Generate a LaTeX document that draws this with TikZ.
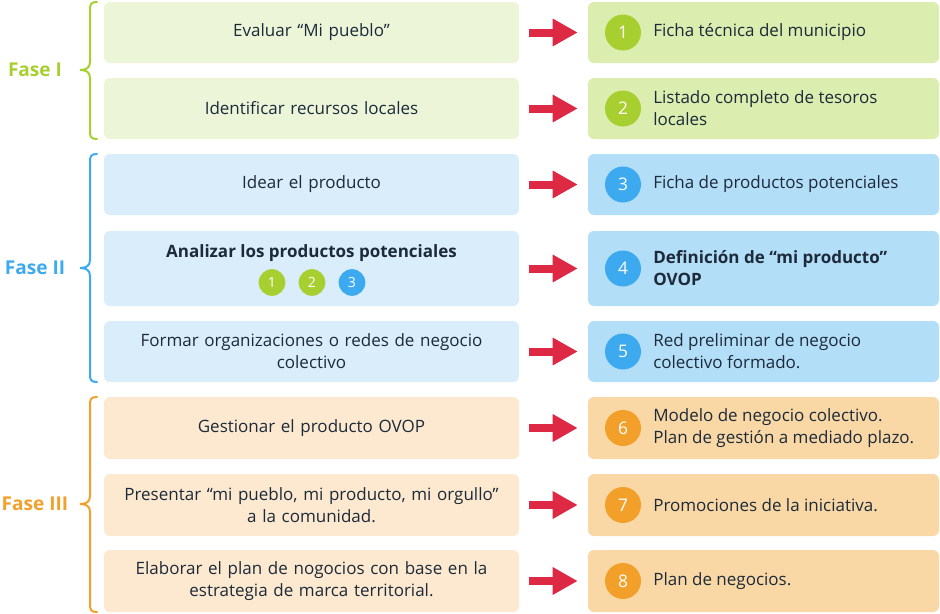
\documentclass[tikz,border=0pt]{standalone}
\usepackage{fontspec}
\setmainfont{Open Sans}
\usetikzlibrary{arrows.meta}
\definecolor{ink}{HTML}{1C2A3A}
\definecolor{gA}{HTML}{A8CF30}
\definecolor{gL}{HTML}{ECF5D8}
\definecolor{gR}{HTML}{DCEDB0}
\definecolor{bA}{HTML}{3DAAEF}
\definecolor{bL}{HTML}{D9EDFA}
\definecolor{bR}{HTML}{B3DEF8}
\definecolor{oA}{HTML}{F3A02A}
\definecolor{oL}{HTML}{FDE9CF}
\definecolor{oR}{HTML}{FAD8A5}
\definecolor{arrowred}{HTML}{DE2945}
\begin{document}
\begin{tikzpicture}[x=0.75pt,y=-0.75pt,
  txt/.style={font=\fontsize{12.75}{16.5}\selectfont, text=ink},
  lbox/.style={txt, rounded corners=4.5pt, minimum width=311.25pt, text width=300pt, align=center, inner sep=0pt},
  rbox/.style={rounded corners=4.5pt, minimum width=263.25pt, inner sep=0pt},
  rtext/.style={txt, anchor=west, align=left, inner sep=0pt},
  num/.style={circle, minimum size=27pt, inner sep=0pt, text=white, font=\fontsize{13}{13}\selectfont},
  snum/.style={circle, minimum size=20pt, inner sep=0pt, text=white, font=\fontsize{10.5}{10.5}\selectfont},
  fase/.style={font=\fontsize{14.3}{14.3}\selectfont\bfseries},
  bracep/.style={line width=1.5pt, line cap=round},
  flow/.style={arrowred, line width=6pt, -{Triangle[width=19.5pt,length=18.75pt]}, shorten <=7.5pt, shorten >=7.5pt}
]
\useasboundingbox (0,0) rectangle (940,614);

% Fase labels and braces
\node[fase, text=gA] (f1) at (35,70) {Fase I};
\node[fase, text=bA] (f2) at (35,268) {Fase II};
\node[fase, text=oA] (f3) at (35,504) {Fase III};

\draw[bracep, gA] (97,2) .. controls (91,2) and (90,4) .. (90,10) -- (90,62) .. controls (90,68) and (86,70) .. (80,70) .. controls (86,70) and (90,72) .. (90,78) -- (90,131) .. controls (90,137) and (91,139) .. (97,139);
\draw[bracep, bA] (97,154) .. controls (91,154) and (90,156) .. (90,162) -- (90,260) .. controls (90,266) and (86,268) .. (80,268) .. controls (86,268) and (90,270) .. (90,276) -- (90,374) .. controls (90,380) and (91,382) .. (97,382);
\draw[bracep, oA] (97,397) .. controls (91,397) and (90,399) .. (90,405) -- (90,496) .. controls (90,502) and (86,504) .. (80,504) .. controls (86,504) and (90,506) .. (90,512) -- (90,604) .. controls (90,610) and (91,612) .. (97,612);

% Left boxes
\node[lbox, fill=gL, minimum height=45.75pt] (l1) at (311.5,32.5) {Evaluar “Mi pueblo”};
\node[lbox, fill=gL, minimum height=45.75pt] (l2) at (311.5,108.5) {Identificar recursos locales};
\node[lbox, fill=bL, minimum height=45.75pt] (l3) at (311.5,184.5) {Idear el producto};
\node[lbox, fill=bL, minimum height=56.25pt] (l4) at (311.5,268.5) {};
\node[txt, font=\fontsize{12.75}{16.5}\selectfont\bfseries] (l4t) at (311.5,253) {Analizar los productos potenciales};
\node[snum, fill=gA] (s1) at (272,282.5) {1};
\node[snum, fill=gA] (s2) at (312,282.5) {2};
\node[snum, fill=bA] (s3) at (352,282.5) {3};
\node[lbox, fill=bL, minimum height=45.75pt] (l5) at (311.5,351.5) {Formar organizaciones o redes de negocio\\colectivo};
\node[lbox, fill=oL, minimum height=46.5pt] (l6) at (311.5,428) {Gestionar el producto OVOP};
\node[lbox, fill=oL, minimum height=46.5pt] (l7) at (311.5,505) {Presentar “mi pueblo, mi producto, mi orgullo”\\a la comunidad.};
\node[lbox, fill=oL, minimum height=46.5pt] (l8) at (311.5,581) {Elaborar el plan de nogocios con base en la\\estrategia de marca territorial.};

% Right boxes
\node[rbox, fill=gR, minimum height=45.75pt] (r1) at (763.5,32.5) {};
\node[rbox, fill=gR, minimum height=45.75pt] (r2) at (763.5,108.5) {};
\node[rbox, fill=bR, minimum height=45.75pt] (r3) at (763.5,184.5) {};
\node[rbox, fill=bR, minimum height=56.25pt] (r4) at (763.5,268.5) {};
\node[rbox, fill=bR, minimum height=45.75pt] (r5) at (763.5,351.5) {};
\node[rbox, fill=oR, minimum height=46.5pt] (r6) at (763.5,428) {};
\node[rbox, fill=oR, minimum height=46.5pt] (r7) at (763.5,505) {};
\node[rbox, fill=oR, minimum height=46.5pt] (r8) at (763.5,581) {};

% Number circles
\node[num, fill=gA] (c1) at (623,32.5) {1};
\node[num, fill=gA] (c2) at (623,108.5) {2};
\node[num, fill=bA] (c3) at (623,184.5) {3};
\node[num, fill=bA] (c4) at (623,268.5) {4};
\node[num, fill=bA] (c5) at (623,351.5) {5};
\node[num, fill=oA] (c6) at (623,428) {6};
\node[num, fill=oA] (c7) at (623,505) {7};
\node[num, fill=oA] (c8) at (623,581) {8};

% Right texts
\node[rtext] (t1) at (653,32.5) {Ficha técnica del municipio};
\node[rtext] (t2) at (653,108.5) {Listado completo de tesoros\\locales};
\node[rtext] (t3) at (653,184.5) {Ficha de productos potenciales};
\node[rtext, font=\fontsize{12.75}{16.5}\selectfont\bfseries] (t4) at (653,268.5) {Definición de “mi producto”\\OVOP};
\node[rtext] (t5) at (653,351.5) {Red preliminar de negocio\\colectivo formado.};
\node[rtext] (t6) at (653,428) {Modelo de negocio colectivo.\\Plan de gestión a mediado plazo.};
\node[rtext] (t7) at (653,505) {Promociones de la iniciativa.};
\node[rtext] (t8) at (653,581) {Plan de negocios.};

% Arrows
\foreach \i in {1,...,8} {\draw[flow] (l\i.east) -- (r\i.west);}
\end{tikzpicture}
\end{document}
